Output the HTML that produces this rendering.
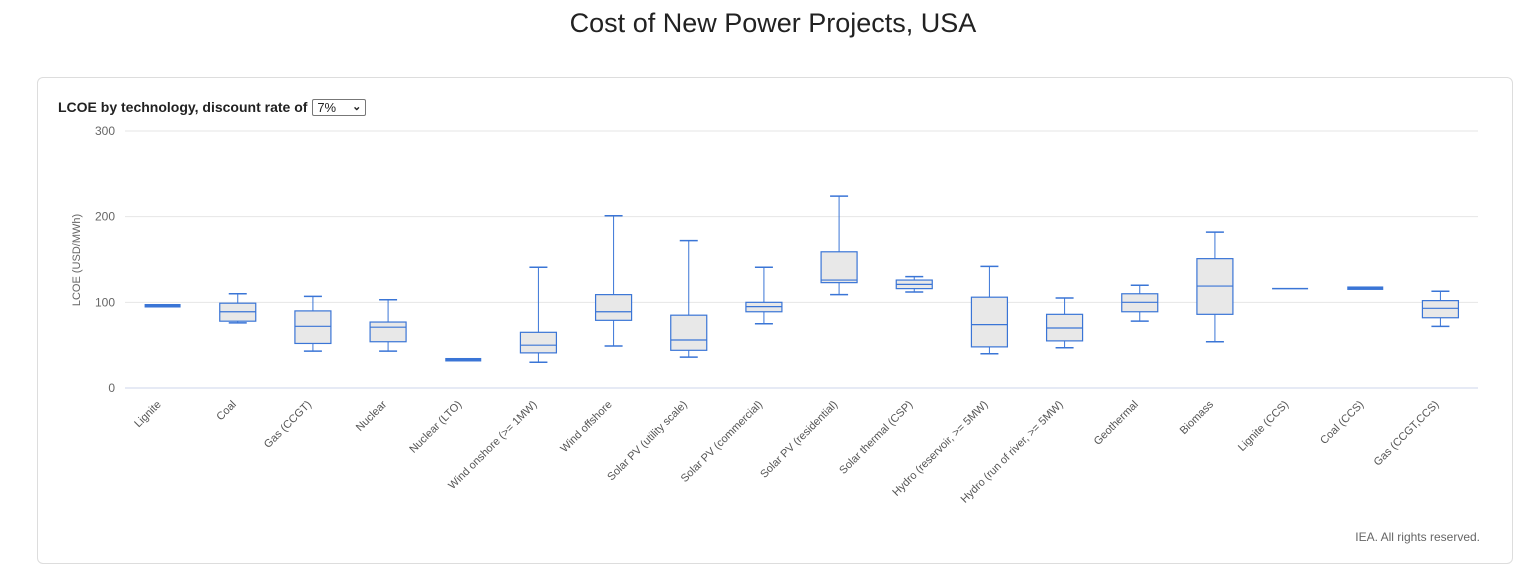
<!DOCTYPE html>
<html><head><meta charset="utf-8"><style>
body{margin:0;width:1518px;height:573px;background:#fff;font-family:"Liberation Sans",sans-serif;overflow:hidden;position:relative}
#title{position:absolute;left:0;width:1546px;top:8px;text-align:center;font-size:27px;color:#222;font-weight:300}
#card{position:absolute;left:37px;top:77px;width:1474px;height:485px;border:1px solid #ddd;border-radius:6px}
#sub{position:absolute;left:58px;top:99px;font-size:14px;font-weight:bold;color:#222}
#sel{display:inline-block;border:1px solid #777;border-radius:2px;font-weight:normal;padding:0 4px;margin-left:1px;width:44px;font-size:13px}
#credit{position:absolute;right:38px;top:530px;font-size:12px;color:#666}
svg{position:absolute;left:0;top:0}
</style></head><body>
<div id="title">Cost of New Power Projects, USA</div>
<div id="card"></div>
<div id="sub">LCOE by technology, discount rate of <span id="sel">7% <span style="float:right;font-size:11px;font-weight:bold">&#8964;</span></span></div>
<div id="credit">IEA. All rights reserved.</div>
<svg id="chart" width="1518" height="573"></svg>
<script>
const categories=["Lignite","Coal","Gas (CCGT)","Nuclear","Nuclear (LTO)","Wind onshore (>= 1MW)","Wind offshore","Solar PV (utility scale)","Solar PV (commercial)","Solar PV (residential)","Solar thermal (CSP)","Hydro (reservoir, >= 5MW)","Hydro (run of river, >= 5MW)","Geothermal","Biomass","Lignite (CCS)","Coal (CCS)","Gas (CCGT,CCS)"];
const mins=[95,76,43,43,31,30,49,36,75,109,112,40,47,78,54,116,115,72];
const q1s=[95,78,52,54,31,41,79,44,89,123,116,48,55,89,86,116,115,82];
const medians=[96,89,72,71,33,50,89,56,95,126,121,74,70,100,119,116,116,93];
const q3s=[97,99,90,77,35,65,109,85,100,159,126,106,86,110,151,116,118,102];
const maxs=[97,110,107,103,35,141,201,172,141,224,130,142,105,120,182,116,118,113];
const yTicks=[0,100,200,300];
const svg=document.getElementById('chart');const NS='http://www.w3.org/2000/svg';
const L=125,R=1478,Y0=388,Y1=131,YMAX=300;
const y=v=>Y0-(v/YMAX)*(Y0-Y1);
const bw=(R-L)/categories.length;
const x=i=>L+bw*(i+0.5);
function mk(t,a,p){const e=document.createElementNS(NS,t);for(const k in a)e.setAttribute(k,a[k]);(p||svg).appendChild(e);return e;}
yTicks.forEach(t=>{
 const g=mk('line',{x1:L,x2:R,y1:y(t),y2:y(t),stroke:t===0?'#ccd6eb':'#e6e6e6','stroke-width':1});
 
 
 const tx=mk('text',{x:115,y:y(t)+4,'text-anchor':'end','font-size':12,fill:'#666'});tx.textContent=t;
 
 
});
const yt=mk('text',{transform:'translate(80,260) rotate(-90)','text-anchor':'middle','font-size':11,fill:'#666'});yt.textContent='LCOE (USD/MWh)';


const C='#3a75d6';
categories.forEach((c,i)=>{
 const cx=x(i);
 const g=mk('g',{});
 
 
 const span=q3s[i]-q1s[i];
 if(span<=0){
  mk('line',{x1:cx-18,x2:cx+18,y1:y(medians[i]),y2:y(medians[i]),stroke:C,'stroke-width':1.5},g);
 } else if(span<=4){
  const h=Math.max(3.5,y(q1s[i])-y(q3s[i]));
  const ym=(y(q1s[i])+y(q3s[i]))/2;
  mk('rect',{x:cx-18,y:ym-h/2,width:36,height:h,fill:C},g);
 } else {
  mk('line',{x1:cx,x2:cx,y1:y(maxs[i]),y2:y(q3s[i]),stroke:C,'stroke-width':1},g);
  mk('line',{x1:cx,x2:cx,y1:y(q1s[i]),y2:y(mins[i]),stroke:C,'stroke-width':1},g);
  mk('line',{x1:cx-9,x2:cx+9,y1:y(maxs[i]),y2:y(maxs[i]),stroke:C,'stroke-width':1.5},g);
  mk('line',{x1:cx-9,x2:cx+9,y1:y(mins[i]),y2:y(mins[i]),stroke:C,'stroke-width':1.5},g);
  mk('rect',{x:cx-18,y:y(q3s[i]),width:36,height:y(q1s[i])-y(q3s[i]),fill:'#e8e8e8',stroke:C,'stroke-width':1.2},g);
  mk('line',{x1:cx-18,x2:cx+18,y1:y(medians[i]),y2:y(medians[i]),stroke:C,'stroke-width':1.2},g);
 }
 const t=mk('text',{transform:`translate(${cx-1},${405}) rotate(-45)`,'text-anchor':'end','font-size':11,fill:'#555'});
 t.textContent=c;
 
 
});
</script>
</body></html>
